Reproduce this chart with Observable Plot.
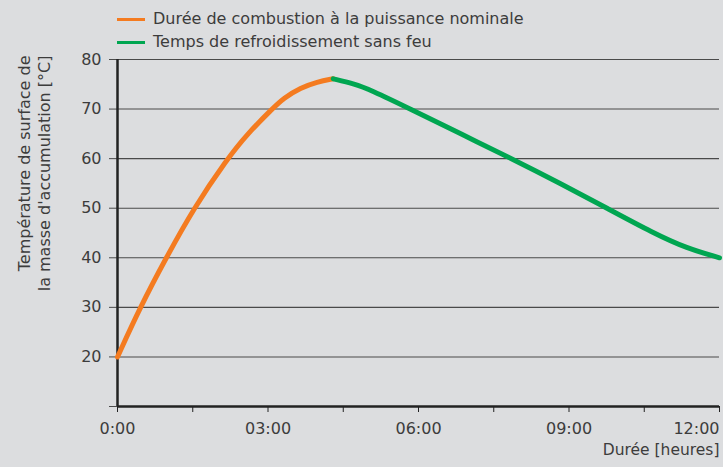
<!DOCTYPE html>
<html><head><meta charset="utf-8">
<script src="https://cdn.jsdelivr.net/npm/d3@7"></script>
<script src="https://cdn.jsdelivr.net/npm/@observablehq/plot@0.6"></script>
<style>
body{margin:0;background:#dcdddf;font-family:"DejaVu Sans",sans-serif;color:#3c3c3c;}
#chart{width:723px;height:467px;position:relative;overflow:hidden;background:#dcdddf}
.legend{height:50px;position:relative}
.item{position:absolute;left:117px;display:flex;align-items:center;font-size:16px;line-height:18px;height:18px}
.sw{width:28px;height:3px;margin-right:8px}
svg{display:block}
</style></head>
<body>
<div id="chart"></div>
<script>
const seriesNames = ["Durée de combustion à la puissance nominale", "Temps de refroidissement sans feu"];
const seriesColors = ["#f47b20", "#00a651"];
const combustionHours = [0, 0.45, 0.97, 1.52, 2.19, 2.59, 3.08, 3.31, 3.65, 3.98, 4.3];
const combustionTemps = [20, 30, 40, 50, 60, 65, 70, 72.2, 74.3, 75.5, 76.1];
const coolingHours = [4.3, 4.71, 5.04, 5.84, 6.84, 7.86, 8.83, 9.76, 10.68, 11.35, 12];
const coolingTemps = [76.1, 75.1, 73.9, 70, 65, 60, 55, 50, 45, 41.9, 40];
const xTicks = [0, 1.5, 3, 4.5, 6, 7.5, 9, 10.5, 12];
const xTickValues = [0, 3, 6, 9, 12];
const xTickLabels = ["0:00", "03:00", "06:00", "09:00", "12:00"];
const yTicks = [10, 20, 30, 40, 50, 60, 70, 80];
const yGrid = [20, 30, 40, 50, 60, 70, 80];
const yLabel = "Température de surface de\nla masse d'accumulation [°C]";
const xLabel = "Durée [heures]";

const combustion = combustionHours.map((h, i) => ({h, t: combustionTemps[i]}));
const cooling = coolingHours.map((h, i) => ({h, t: coolingTemps[i]}));
const xLabelsData = xTickValues.map((v, i) => ({v, label: xTickLabels[i]}));
const xLabelsMid = xLabelsData.slice(0, -1);
const xLabelsEnd = xLabelsData.slice(-1);

const chart = document.getElementById("chart");
const legend = document.createElement("div");
legend.className = "legend";
seriesNames.forEach((name, i) => {
  const it = document.createElement("div");
  it.className = "item";
  it.style.top = (i === 0 ? 10 : 33) + "px";
  const sw = document.createElement("span");
  sw.className = "sw";
  sw.style.background = seriesColors[i];
  const tx = document.createElement("span");
  tx.textContent = name;
  it.appendChild(sw); it.appendChild(tx);
  legend.appendChild(it);
});
chart.appendChild(legend);

const txt = "#3c3c3c";
const plot = Plot.plot({
  width: 723,
  height: 417,
  marginTop: 9,
  marginBottom: 61,
  marginLeft: 117,
  marginRight: 4,
  style: {background: "transparent", fontFamily: "DejaVu Sans, sans-serif", fontSize: "16px", color: txt},
  x: {domain: [0, 12]},
  y: {domain: [10, 80]},
  marks: [
    Plot.gridY(yGrid, {stroke: "#4a4a4a", strokeOpacity: 1, strokeWidth: 1.1}),
    Plot.axisY(yTicks, {tickSize: 8, tickPadding: 8, stroke: "#4a4a4a", tickFormat: d => d === 10 ? "" : String(d), fill: txt, fontSize: 16, label: null}),
    Plot.axisX(xTicks, {tickSize: 6, tickPadding: 15, stroke: "#222", tickFormat: () => "", label: null}),
    Plot.text(xLabelsMid, {x: "v", text: "label", frameAnchor: "bottom", dy: 27, textAnchor: "middle", fill: txt, fontSize: 16}),
    Plot.text(xLabelsEnd, {x: "v", text: "label", frameAnchor: "bottom", dy: 27, textAnchor: "end", fill: txt, fontSize: 16}),
    Plot.ruleY([10], {stroke: "#222", strokeWidth: 2.5}),
    Plot.ruleX([0], {stroke: "#222", strokeWidth: 2.5, y1: 10, y2: 80}),
    Plot.line(combustion, {x: "h", y: "t", stroke: seriesColors[0], strokeWidth: 5, curve: "basis"}),
    Plot.line(cooling, {x: "h", y: "t", stroke: seriesColors[1], strokeWidth: 5, curve: "basis"}),
    Plot.text([yLabel], {frameAnchor: "top-left", rotate: -90, dx: -84, dy: -4, lineHeight: 1.25, fill: txt, textAnchor: "end", lineAnchor: "middle", fontSize: 16}),
    Plot.text([xLabel], {frameAnchor: "bottom-right", dy: 48, textAnchor: "end", fill: txt, fontSize: 15.5})
  ]
});
chart.appendChild(plot);
</script>
</body></html>
